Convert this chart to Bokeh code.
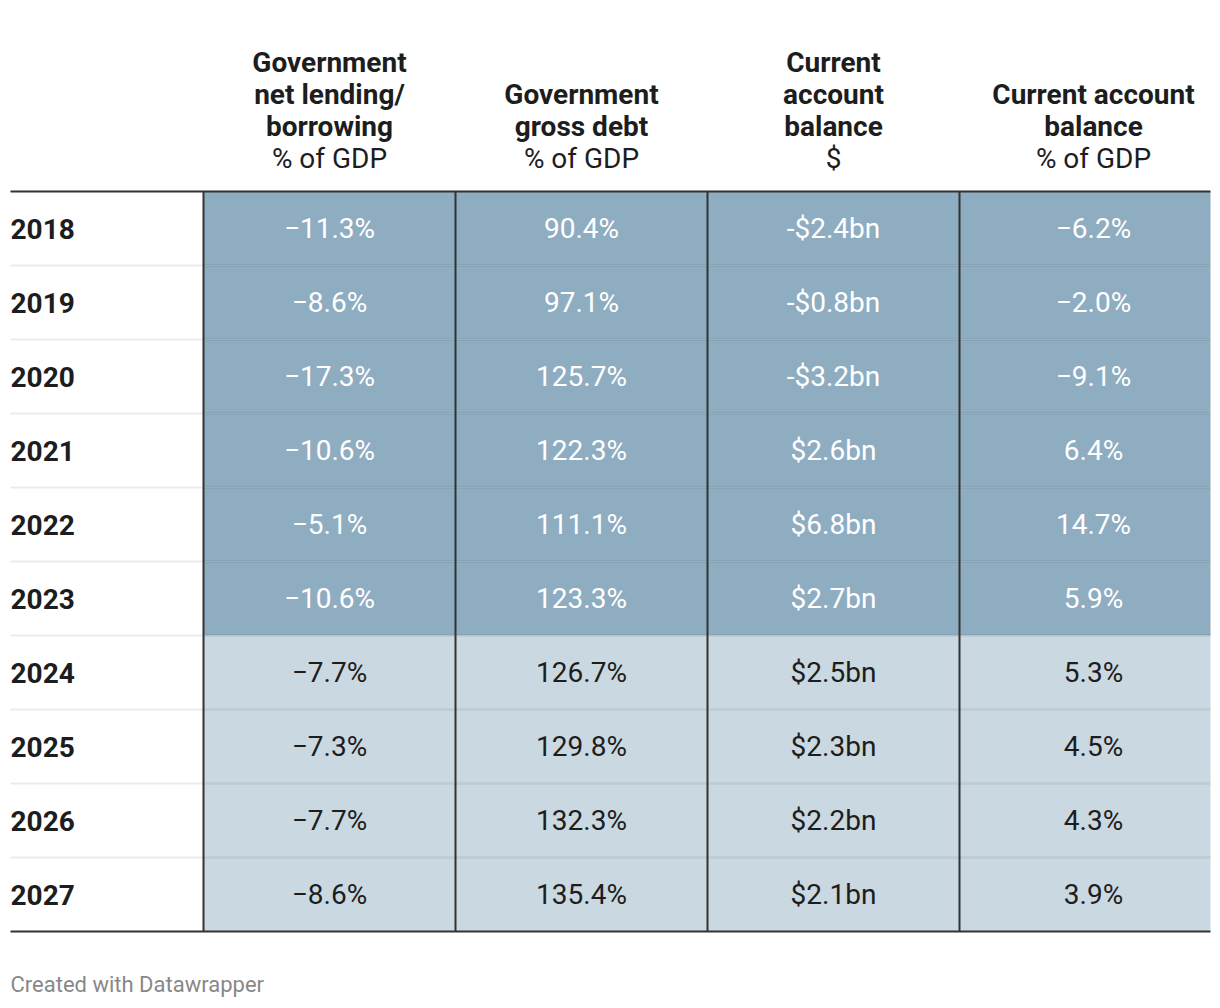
from bokeh.plotting import figure
from bokeh.models import Range1d
from bokeh.core.properties import value
from bokeh.embed import file_html
from bokeh.resources import INLINE

# ---- data ----
years = ["2018", "2019", "2020", "2021", "2022", "2023", "2024", "2025", "2026", "2027"]
net_lending = [-11.3, -8.6, -17.3, -10.6, -5.1, -10.6, -7.7, -7.3, -7.7, -8.6]
gross_debt = [90.4, 97.1, 125.7, 122.3, 111.1, 123.3, 126.7, 129.8, 132.3, 135.4]
ca_usd_bn = [-2.4, -0.8, -3.2, 2.6, 6.8, 2.7, 2.5, 2.3, 2.2, 2.1]
ca_gdp = [-6.2, -2.0, -9.1, 6.4, 14.7, 5.9, 5.3, 4.5, 4.3, 3.9]
first_forecast_year = 2024

headers_bold = [
    ["Government", "net lending/", "borrowing"],
    ["Government", "gross debt"],
    ["Current", "account", "balance"],
    ["Current account", "balance"],
]
headers_unit = ["% of GDP", "% of GDP", "$", "% of GDP"]
footer = "Created with Datawrapper"

# ---- formatting ----
def pct(v):
    s = f"{abs(v):.1f}%"
    return ("\u2212" + s) if v < 0 else s

def usd(v):
    s = f"${abs(v):.1f}bn"
    return ("-" + s) if v < 0 else s

columns = [
    [pct(v) for v in net_lending],
    [pct(v) for v in gross_debt],
    [usd(v) for v in ca_usd_bn],
    [pct(v) for v in ca_gdp],
]

# ---- layout (pixel coordinates) ----
W, H = 1216, 1000
X0, X1 = 10, 1210
col_edges = [203, 455, 707, 959, 1210]
text_cx = [329, 581, 833, 1093]
TOP = 191
ROW_H = 74
FONT = "Roboto"
DARK = "#8fadc1"
LIGHT = "#cad8e1"
INK = "#1d1d1d"
FS = "28px"

p = figure(width=W, height=H, output_backend="svg", toolbar_location=None,
           x_range=Range1d(0, W), y_range=Range1d(H, 0),
           min_border=0, outline_line_color=None)
p.axis.visible = False
p.grid.visible = False
p.background_fill_color = "white"
p.border_fill_color = "white"

n = len(years)
# cells
cl, cr, ct, cb, cf = [], [], [], [], []
for i, y in enumerate(years):
    for j in range(4):
        cl.append(col_edges[j]); cr.append(col_edges[j + 1])
        ct.append(TOP + i * ROW_H); cb.append(TOP + (i + 1) * ROW_H)
        cf.append(LIGHT if int(y) >= first_forecast_year else DARK)
p.quad(left=cl, right=cr, top=ct, bottom=cb, fill_color=cf, line_color=None)

# row separators
sep_y = [TOP + (i + 1) * ROW_H for i in range(n - 1)]
p.segment(x0=[X0] * len(sep_y), x1=[col_edges[0]] * len(sep_y), y0=sep_y, y1=sep_y,
          line_color="#ebebeb", line_width=2)
p.segment(x0=[col_edges[0]] * len(sep_y), x1=[X1] * len(sep_y), y0=sep_y, y1=sep_y,
          line_color="black", line_alpha=0.1, line_width=2)

# vertical lines
p.segment(x0=col_edges[:4], x1=col_edges[:4], y0=[TOP] * 4, y1=[TOP + n * ROW_H] * 4,
          line_color="#333333", line_width=2)
# header and bottom rules
p.segment(x0=[X0, X0], x1=[X1, X1], y0=[TOP, TOP + n * ROW_H], y1=[TOP, TOP + n * ROW_H],
          line_color="#333333", line_width=2)

# year labels
row_cy = [TOP + i * ROW_H + ROW_H / 2 for i in range(n)]
p.text(x=[X0] * n, y=row_cy, text=years, text_font=value(FONT), text_font_style="bold",
       text_font_size=FS, text_color=INK, text_align="left", text_baseline="middle")

# cell values
tx, ty, tt, tc = [], [], [], []
for j in range(4):
    for i, y in enumerate(years):
        tx.append(text_cx[j]); ty.append(row_cy[i]); tt.append(columns[j][i])
        tc.append(INK if int(y) >= first_forecast_year else "white")
p.text(x=tx, y=ty, text=tt, text_color=tc, text_font=value(FONT), text_font_size=FS,
       text_align="center", text_baseline="middle")

# headers
LINE = 32
UNIT_Y = 158
hx, hy, ht = [], [], []
for j in range(4):
    lines = headers_bold[j]
    for k, s in enumerate(lines):
        hx.append(text_cx[j]); hy.append(UNIT_Y - LINE * (len(lines) - k)); ht.append(s)
p.text(x=hx, y=hy, text=ht, text_font=value(FONT), text_font_style="bold", text_font_size=FS,
       text_color=INK, text_align="center", text_baseline="middle")
p.text(x=text_cx, y=[UNIT_Y] * 4, text=headers_unit, text_font=value(FONT), text_font_size=FS,
       text_color=INK, text_align="center", text_baseline="middle")

# footer
p.text(x=[X0], y=[984], text=[footer], text_font=value(FONT), text_font_size="22px",
       text_color="#888888", text_align="left", text_baseline="middle")

open("out.html", "w").write(file_html(p, INLINE))
